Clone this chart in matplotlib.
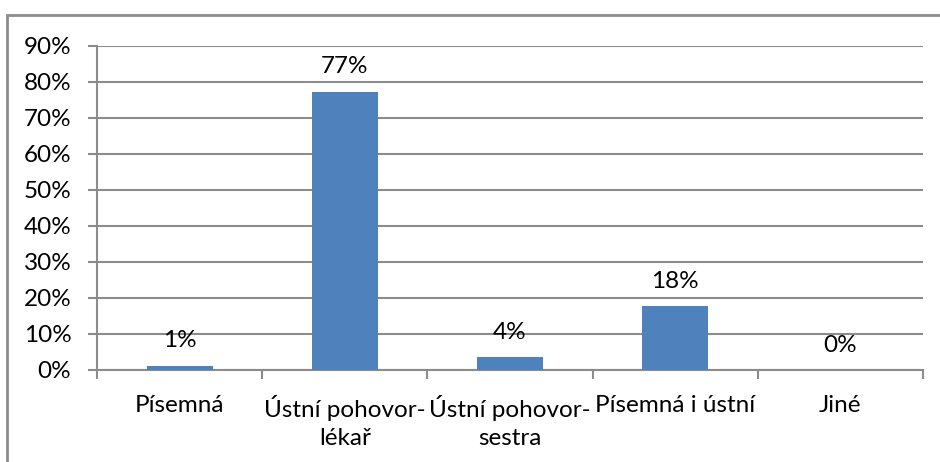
import matplotlib
matplotlib.use("Agg")
import matplotlib.pyplot as plt
from matplotlib.patches import Rectangle
from matplotlib.ticker import FixedLocator, PercentFormatter

categories = ["Písemná", "Ústní pohovor-\nlékař", "Ústní pohovor-\nsestra", "Písemná i ústní", "Jiné"]
values = [1.2, 77.2, 3.6, 17.7, 0.0]
labels = ["1%", "77%", "4%", "18%", "0%"]
yticks = [0, 10, 20, 30, 40, 50, 60, 70, 80, 90]

plt.rcParams['font.family'] = ['Lato', 'DejaVu Sans']
W, H = 940, 462
fig = plt.figure(figsize=(W/100, H/100), dpi=100)
ax = fig.add_axes([97/W, 1-370/H, (923-97)/W, (370-45.7)/H])

grid_c = '#8c8c8c'
bar_c = '#4f81bd'
fs = 17.5

x = list(range(len(categories)))
ax.bar(x, values, width=0.4, color=bar_c, zorder=3)
for xi, v, lab in zip(x, values, labels):
    ax.annotate(lab, (xi, v), xytext=(0, 18), textcoords='offset points',
                ha='center', va='center', fontsize=fs, color='black')

ax.set_xlim(-0.5, len(categories)-0.5)
ax.set_ylim(0, 90)
ax.set_yticks(yticks)
ax.yaxis.set_major_formatter(PercentFormatter(decimals=0))
ax.yaxis.grid(True, color=grid_c, linewidth=1.5, zorder=0)
ax.set_axisbelow(True)

ax.set_xticks(x)
ax.set_xticklabels(categories, fontsize=fs, linespacing=1.4)
ax.xaxis.set_minor_locator(FixedLocator([i-0.5 for i in range(len(categories)+1)]))
ax.tick_params(axis='x', which='major', length=0, pad=18)
ax.tick_params(axis='x', which='minor', length=6.5, width=1.5, color=grid_c)
ax.tick_params(axis='y', which='major', length=6.5, width=1.5, color=grid_c, pad=12, labelsize=fs)

for s in ['top', 'right']:
    ax.spines[s].set_visible(False)
for s in ['left', 'bottom']:
    ax.spines[s].set_color(grid_c)
    ax.spines[s].set_linewidth(1.5)

# outer chart border (only left & top visible in the crop)
fig.patches.append(Rectangle((7/W, -0.5), 2.0, 1.5 - 15/H, transform=fig.transFigure,
                             fill=False, edgecolor=grid_c, linewidth=2))

fig.savefig("out.png", dpi=100)
